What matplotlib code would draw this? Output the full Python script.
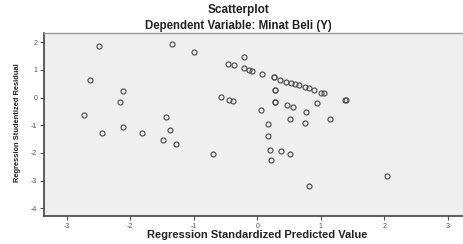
import matplotlib
matplotlib.use("Agg")
import matplotlib.pyplot as plt
from matplotlib import font_manager

# Regression standardized predicted values (x) and studentized residuals (y)
pred = [-2.488, -1.350, -2.636, -2.106, -2.157, -2.731, -1.439, -2.447, -2.106,
        -1.822, -1.376, -1.480, -1.276, -1.003, -0.216, -0.463, -0.369, -0.216,
        -0.132, -0.085, 0.072, 0.261, 0.270, 0.356, 0.457, 0.535, 0.587, 0.650,
        0.745, 0.808, 0.887, 0.997, 1.044, 1.383, 1.390, 0.272, 0.275, -0.567,
        -0.452, -0.384, 0.272, 0.280, 0.461, 0.561, 0.939, 0.063, 0.761, 0.162,
        0.520, 0.745, 1.142, 0.162, -0.704, 0.205, 0.367, 0.513, 0.220, 0.813,
        2.047]
resid = [1.879, 1.930, 0.640, 0.242, -0.155, -0.636, -0.687, -1.287, -1.070,
         -1.276, -1.157, -1.518, -1.662, 1.662, 1.482, 1.229, 1.171, 1.063,
         0.990, 0.976, 0.857, 0.737, 0.730, 0.651, 0.578, 0.520, 0.495, 0.448,
         0.376, 0.340, 0.267, 0.181, 0.170, -0.083, -0.090, 0.278, 0.272, 0.025,
         -0.072, -0.119, -0.145, -0.150, -0.275, -0.347, -0.192, -0.445, -0.517,
         -0.940, -0.770, -0.925, -0.777, -1.373, -2.046, -1.901, -1.937, -2.046,
         -2.262, -3.202, -2.819]

x_ticks = [-3, -2, -1, 0, 1, 2, 3]
y_ticks = [-4, -3, -2, -1, 0, 1, 2]

title = "Scatterplot"
subtitle = "Dependent Variable: Minat Beli (Y)"
xlabel = "Regression Standardized Predicted Value"
ylabel = "Regression Studentized Residual"

plt.rcParams['font.family'] = ['Liberation Sans', 'DejaVu Sans']

names = {f.name for f in font_manager.fontManager.ttflist}
narrow = 'Liberation Sans Narrow' in names

W, H = 463, 244
fig = plt.figure(figsize=(W / 100, H / 100), dpi=100)
fig.patch.set_facecolor('white')

left, right, top, bottom = 44.3, 463.5, 33, 216
ax = fig.add_axes([left / W, 1 - bottom / H, (right - left) / W, (bottom - top) / H])
ax.set_facecolor('#efefef')

ax.plot(pred, resid, linestyle='none', marker='o', markersize=3.6,
        markerfacecolor='none', markeredgecolor='#505050', markeredgewidth=0.85)

ax.set_xlim(-3.353, 3.248)
ax.set_ylim(-4.278, 2.336)
ax.set_xticks(x_ticks)
ax.set_yticks(y_ticks)
ax.set_xticklabels([str(t) for t in x_ticks])
ax.set_yticklabels([str(t) for t in y_ticks])
ax.tick_params(axis='both', length=3, width=0.8, color='#555555',
               labelsize=5, labelcolor='#555555', pad=2)

for s in ['left', 'bottom']:
    ax.spines[s].set_color('#444444')
    ax.spines[s].set_linewidth(1.2)
ax.spines['top'].set_color('#999999')
ax.spines['top'].set_linewidth(1.0)
ax.spines['right'].set_visible(False)

fig.text(238.5 / W, 1 - 10.5 / H, title, ha='center', va='center',
         fontsize=8.5, fontweight='bold', color='#222222')
fig.text(238.5 / W, 1 - 25.5 / H, subtitle, ha='center', va='center',
         fontsize=8.3, fontweight='bold', color='#222222')
fig.text(257.5 / W, 1 - 235.5 / H, xlabel, ha='center', va='center',
         fontsize=8, fontweight='bold', color='#222222')
if narrow:
    fig.text(18 / W, 1 - 123 / H, ylabel, ha='center', va='center', rotation=90,
             fontsize=6.6, fontweight='bold', color='#222222',
             family=['Liberation Sans Narrow', 'DejaVu Sans'])
else:
    fig.text(18 / W, 1 - 123 / H, ylabel, ha='center', va='center', rotation=90,
             fontsize=5.4, fontweight='bold', color='#222222')

fig.savefig('out.png', dpi=100)
